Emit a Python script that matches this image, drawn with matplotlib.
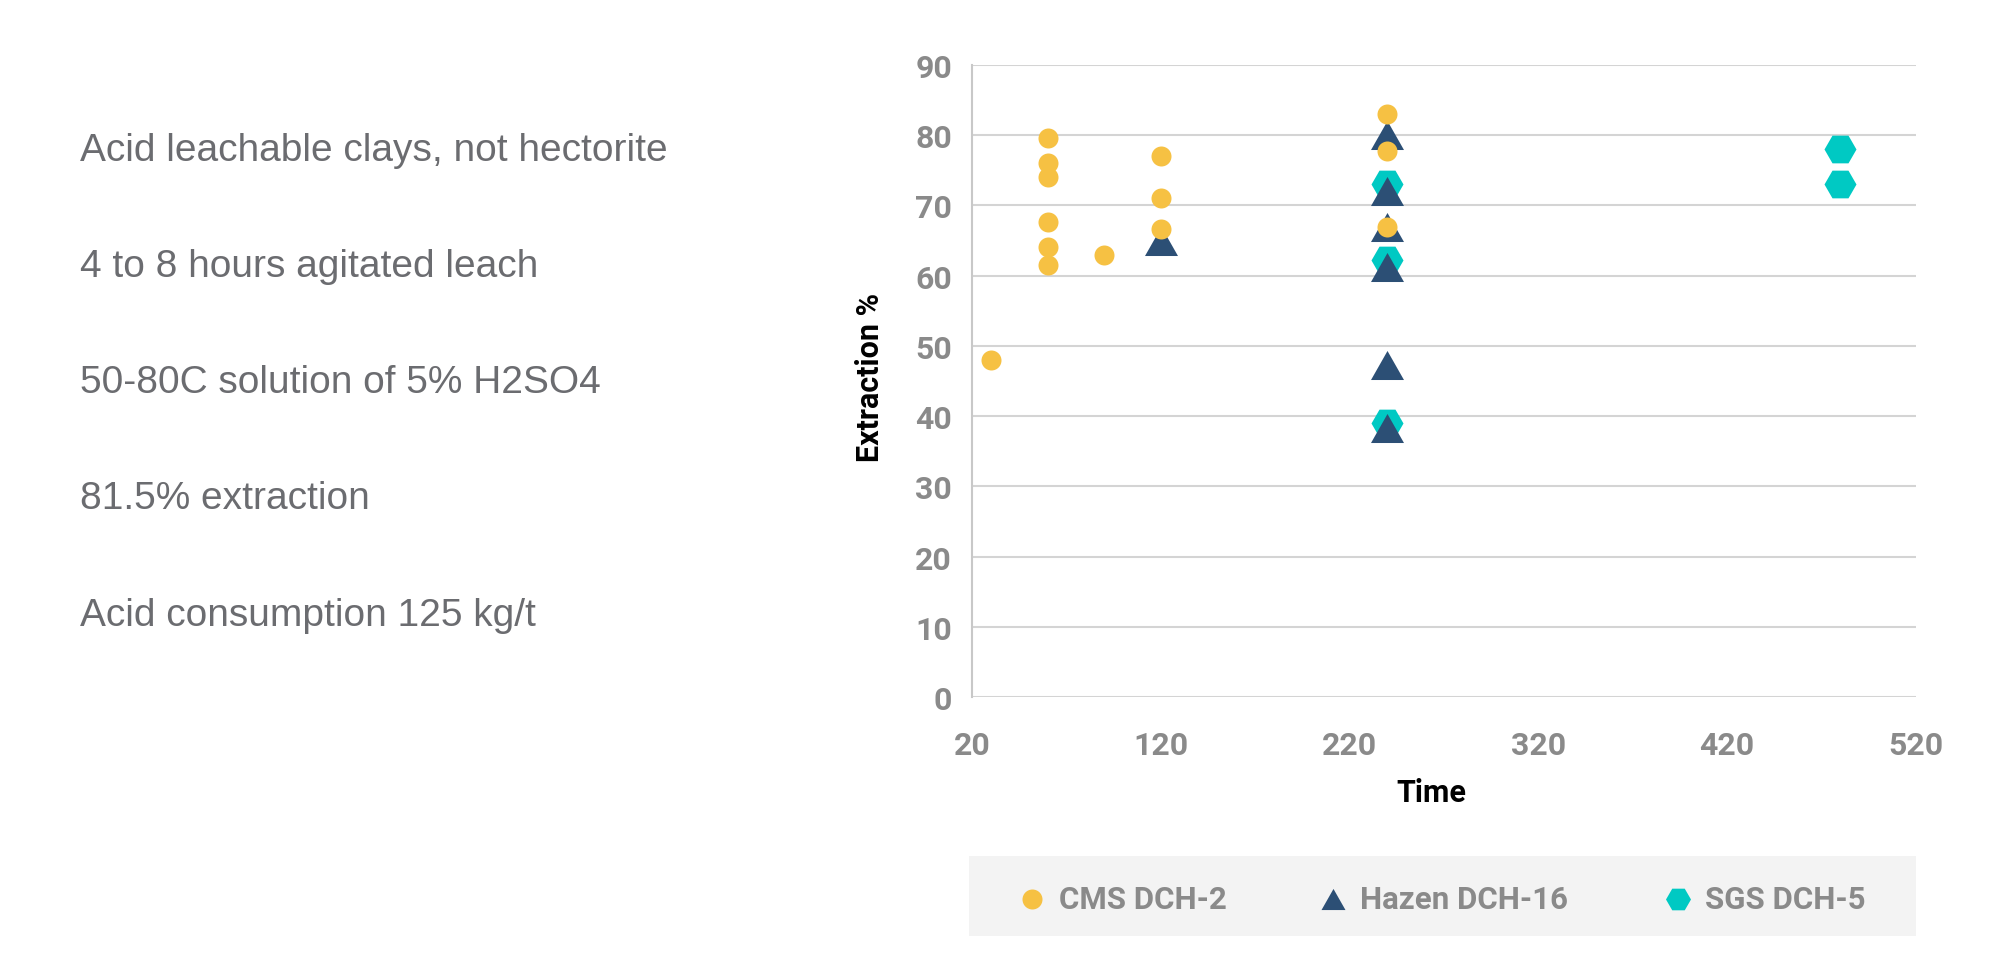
import matplotlib
matplotlib.use("Agg")
import matplotlib.pyplot as plt
from matplotlib.path import Path
from matplotlib.lines import Line2D
from matplotlib.patches import Rectangle

# ---- data ----
cms_time = [30, 60, 60, 60, 60, 60, 60, 90, 120, 120, 120, 240, 240, 240]
cms_ext = [48, 79.6, 76.1, 74.1, 67.7, 64.1, 61.5, 63, 77, 71.1, 66.6, 83, 77.7, 67]

hazen_time = [120, 240, 240, 240, 240, 240, 240]
hazen_ext = [65, 80, 72, 67, 61.3, 47.3, 38.3]

sgs_time = [240, 240, 240, 480, 480]
sgs_ext = [73, 62.2, 39, 78, 73]

series_names = ["CMS DCH-2", "Hazen DCH-16", "SGS DCH-5"]

notes = [
    "Acid leachable clays, not hectorite",
    "4 to 8 hours agitated leach",
    "50-80C solution of 5% H2SO4",
    "81.5% extraction",
    "Acid consumption 125 kg/t",
]

x_ticks = [20, 120, 220, 320, 420, 520]
y_ticks = [0, 10, 20, 30, 40, 50, 60, 70, 80, 90]

# ---- style ----
YELLOW = "#F6C143"
NAVY = "#2C4F75"
TEAL = "#00C9C3"
TICK_GRAY = "#8a8a8a"
TEXT_GRAY = "#6b6c70"
GRID = "#d4d4d4"

PT = 0.72  # px -> pt at dpi 100
BOLD_FONT = ["Roboto", "DejaVu Sans"]

tri = Path([(0, 0.88), (-1, -0.88), (1, -0.88), (0, 0.88)],
           [Path.MOVETO, Path.LINETO, Path.LINETO, Path.CLOSEPOLY])

fig = plt.figure(figsize=(20, 9.62), dpi=100)
ax = fig.add_axes([972 / 2000, 1 - 698 / 962, (1916 - 972) / 2000, (698 - 66) / 962])

ax.plot(sgs_time, sgs_ext, linestyle="none", marker="H", ms=32 * PT,
        color=TEAL, mec="none", zorder=3)
ax.plot(hazen_time, hazen_ext, linestyle="none", marker=tri, ms=33 * PT,
        color=NAVY, mec="none", zorder=4)
ax.plot(cms_time, cms_ext, linestyle="none", marker="o", ms=20 * PT,
        color=YELLOW, mec="none", zorder=5)

ax.set_xlim(20, 520)
ax.set_ylim(0, 90)
ax.set_xticks(x_ticks)
ax.set_yticks(y_ticks)
ax.grid(axis="y", color=GRID, linewidth=1.5)
ax.set_axisbelow(True)
for s in ["top", "right", "bottom"]:
    ax.spines[s].set_visible(False)
ax.spines["left"].set_color("#c8c8c8")
ax.spines["left"].set_linewidth(1.5)
ax.tick_params(length=0)
ax.tick_params(axis="x", pad=33 * PT)
ax.tick_params(axis="y", pad=20 * PT)
for lab in ax.get_xticklabels() + ax.get_yticklabels():
    lab.set_fontfamily(BOLD_FONT)
    lab.set_fontweight("bold")
    lab.set_fontsize(23)
    lab.set_color(TICK_GRAY)

fig.text(1431 / 2000, 1 - 793 / 962, "Time", ha="center", va="center",
         fontsize=22, fontweight="bold", family=BOLD_FONT, color="black")
fig.text(870 / 2000, 1 - 377 / 962, "Extraction %", ha="center", va="center",
         rotation=90, fontsize=22, fontweight="bold", family=BOLD_FONT,
         color="black")

# left notes
ys = [151, 267, 383, 499, 616]
for t, y in zip(notes, ys):
    fig.text(80 / 2000, 1 - y / 962, t, ha="left", va="center", fontsize=28,
             family=["Liberation Sans", "DejaVu Sans"], color=TEXT_GRAY)

# legend box
fig.patches.append(Rectangle((969 / 2000, 1 - 937 / 962), (1916 - 969) / 2000, 80 / 962,
                             transform=fig.transFigure, facecolor="#f3f3f3",
                             edgecolor="none", zorder=0))
handles = [
    Line2D([], [], linestyle="none", marker="o", ms=20 * PT, color=YELLOW, mec="none"),
    Line2D([], [], linestyle="none", marker=tri, ms=24 * PT, color=NAVY, mec="none"),
    Line2D([], [], linestyle="none", marker="H", ms=25 * PT, color=TEAL, mec="none"),
]
leg_x = [1032, 1333, 1678]
for h, name, lx in zip(handles, series_names, leg_x):
    fig.add_artist(Line2D([lx / 2000], [1 - 900 / 962], transform=fig.transFigure,
                          linestyle="none", marker=h.get_marker(), ms=h.get_markersize(),
                          color=h.get_color(), mec="none"))
    fig.text((lx + 27) / 2000, 1 - 900 / 962, name, ha="left", va="center",
             fontsize=22.5, fontweight="bold", family=BOLD_FONT,
             color=TICK_GRAY)

fig.savefig("out.png", dpi=100)
